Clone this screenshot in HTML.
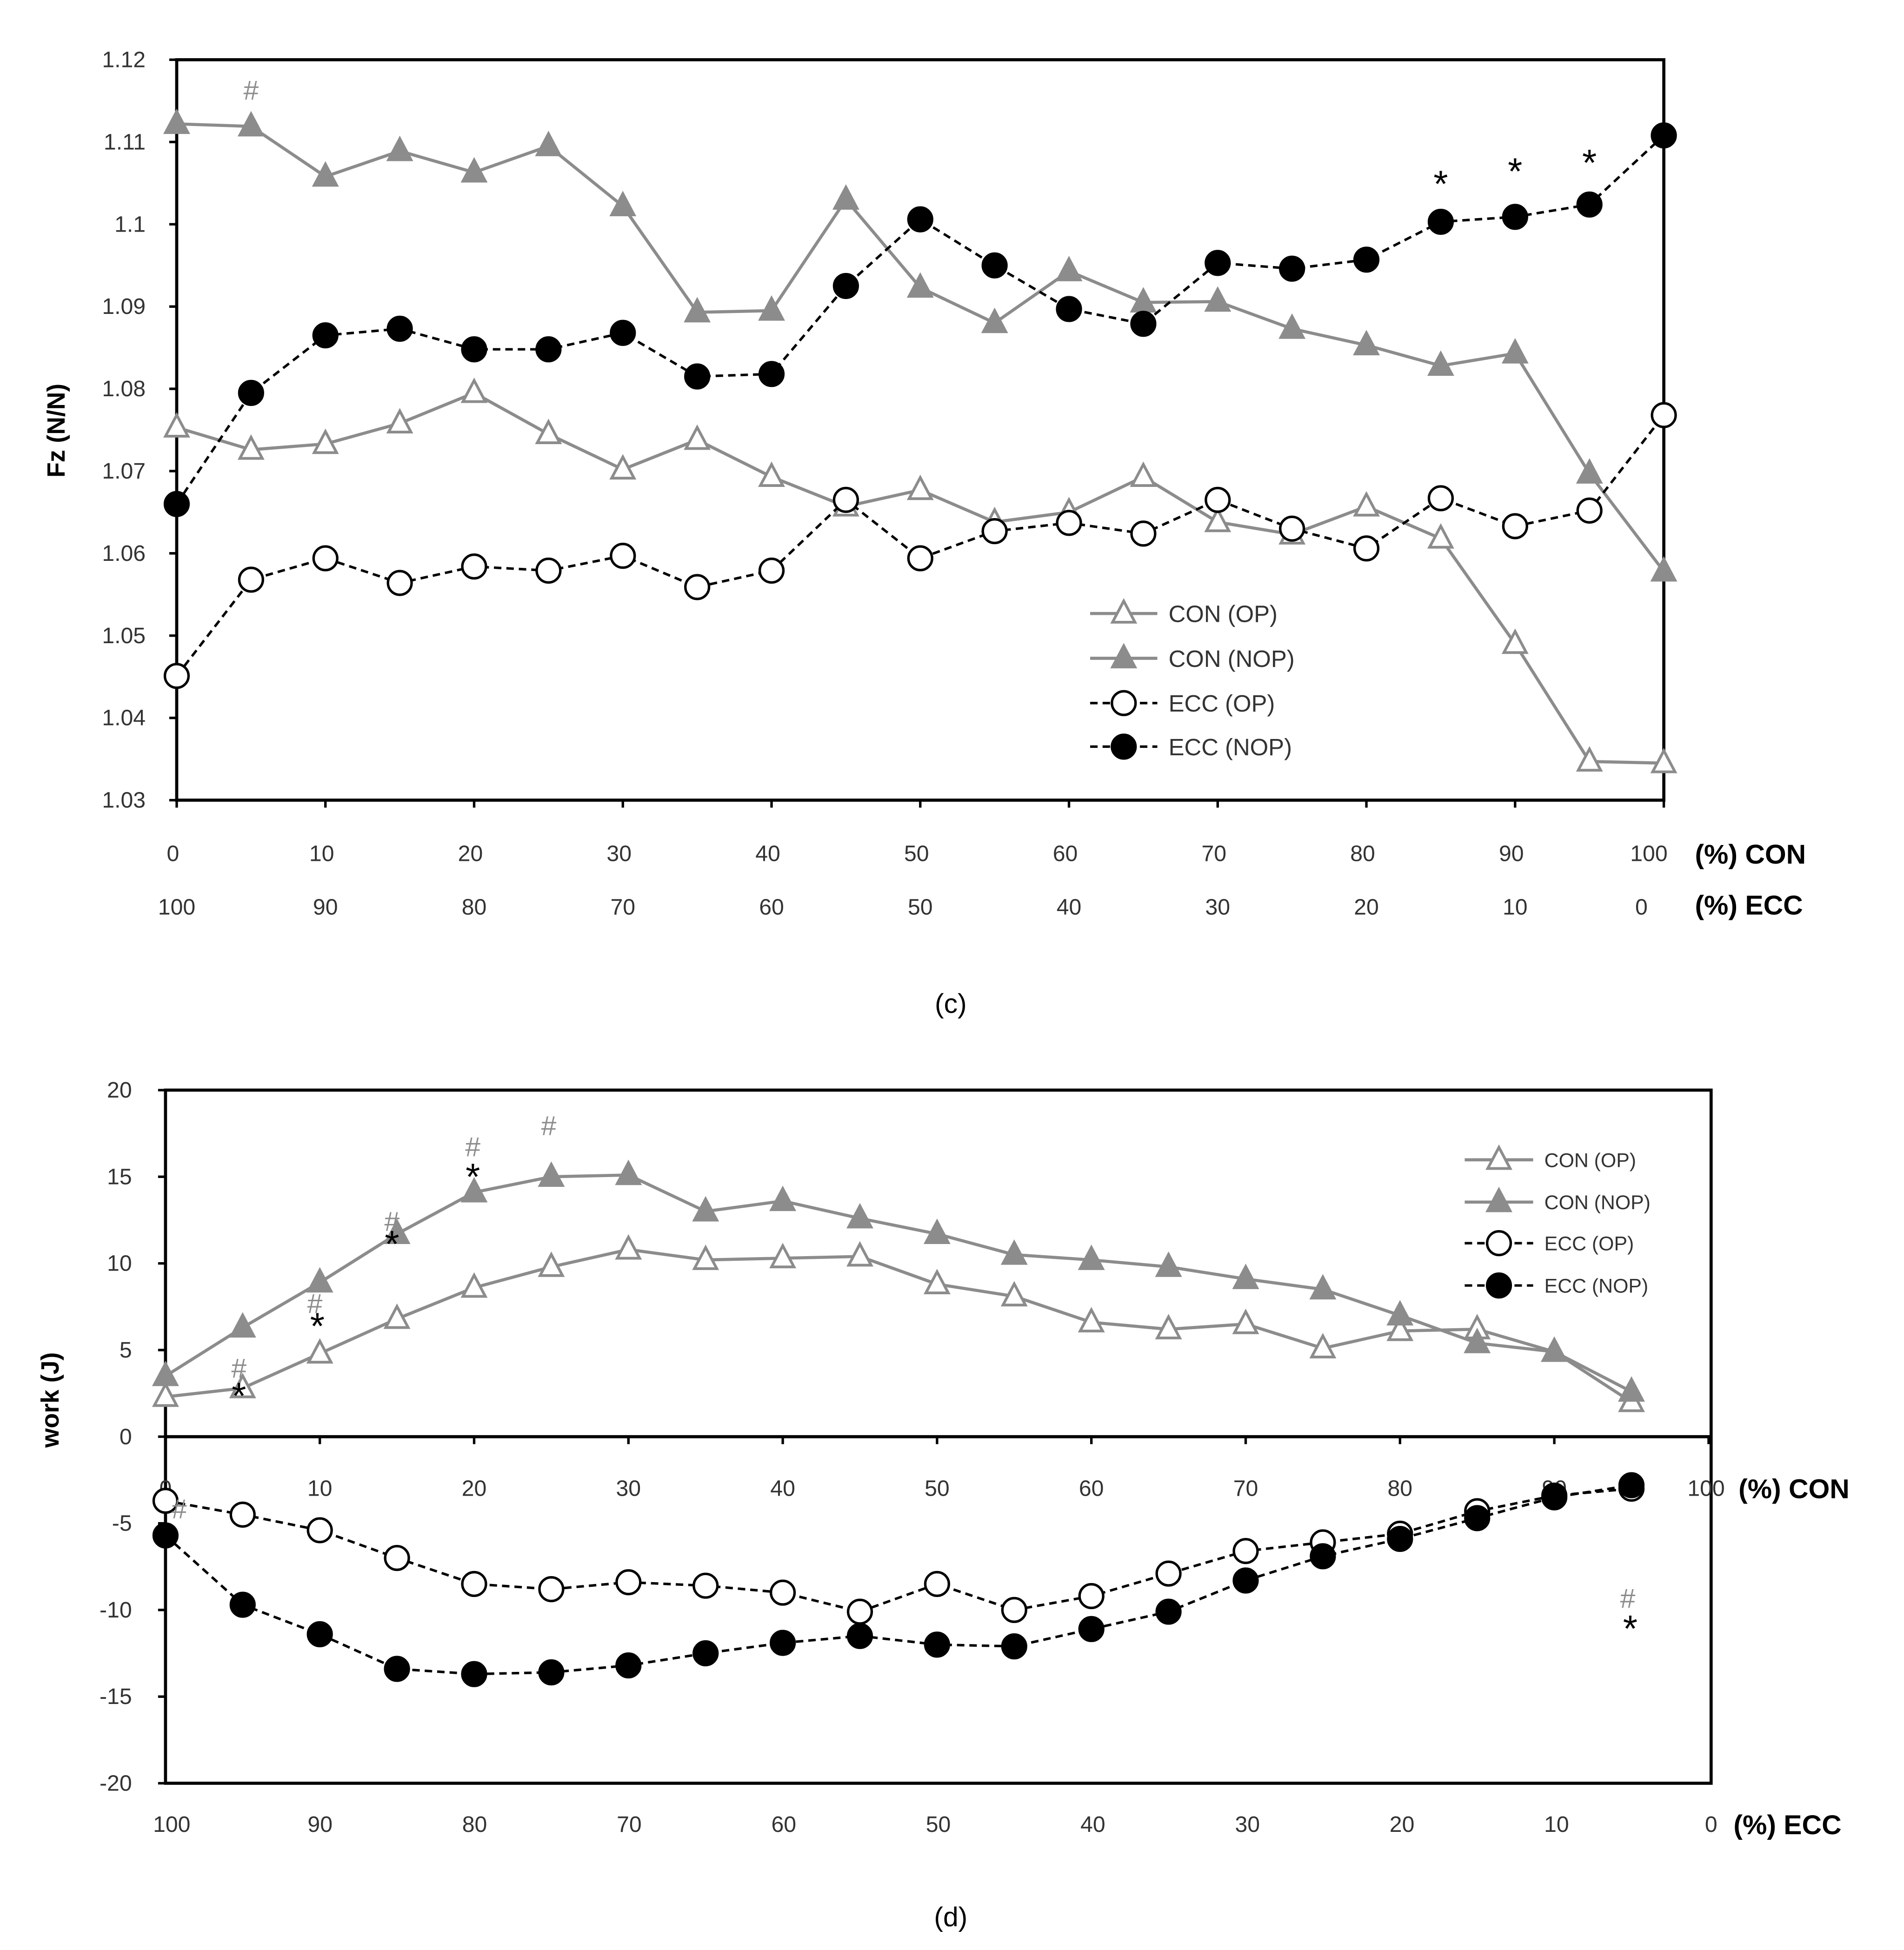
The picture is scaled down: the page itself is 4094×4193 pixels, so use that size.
<!DOCTYPE html>
<html><head><meta charset="utf-8"><style>html,body{margin:0;padding:0;background:#fff}svg{display:block}text{font-family:"Liberation Sans",sans-serif}</style></head>
<body>
<svg id="fig" xmlns="http://www.w3.org/2000/svg" width="4094" height="4193" viewBox="0 0 1530 1567" preserveAspectRatio="none">
<rect width="1530" height="1567" fill="#fff"/>
</svg>
<script>
const xC = [0,5,10,15,20,25,30,35,40,45,50,55,60,65,70,75,80,85,90,95,100];
const cConOP = [1.0753,1.0726,1.0733,1.0758,1.0795,1.0745,1.0702,1.0738,1.0693,1.0657,1.0677,1.0638,1.0650,1.0693,1.0638,1.0623,1.0657,1.0618,1.0490,1.0347,1.0345];
const cConNOP = [1.1122,1.1119,1.1058,1.1089,1.1063,1.1095,1.1022,1.0893,1.0895,1.1030,1.0923,1.0880,1.0943,1.0905,1.0906,1.0873,1.0853,1.0828,1.0843,1.0697,1.0578];
const cEccOP = [1.0451,1.0568,1.0594,1.0564,1.0584,1.0579,1.0597,1.0559,1.0579,1.0665,1.0594,1.0627,1.0637,1.0624,1.0665,1.0630,1.0606,1.0667,1.0633,1.0652,1.0768];
const cEccNOP = [1.0660,1.0795,1.0865,1.0873,1.0848,1.0848,1.0868,1.0815,1.0818,1.0925,1.1006,1.0950,1.0897,1.0879,1.0953,1.0946,1.0957,1.1003,1.1009,1.1024,1.1108];
const cYTicks = ["1.03","1.04","1.05","1.06","1.07","1.08","1.09","1.1","1.11","1.12"];
const xD = [0,5,10,15,20,25,30,35,40,45,50,55,60,65,70,75,80,85,90,95];
const dConOP = [2.3,2.8,4.8,6.8,8.6,9.8,10.8,10.2,10.3,10.4,8.8,8.1,6.6,6.2,6.5,5.1,6.1,6.2,4.9,2.0];
const dConNOP = [3.5,6.3,8.9,11.7,14.1,15.0,15.1,13.0,13.6,12.6,11.7,10.5,10.2,9.8,9.1,8.5,7.0,5.4,4.9,2.6];
const dEccOP = [-3.7,-4.5,-5.4,-7.0,-8.5,-8.8,-8.4,-8.6,-9.0,-10.1,-8.5,-10.0,-9.2,-7.9,-6.6,-6.1,-5.6,-4.3,-3.4,-3.0];
const dEccNOP = [-5.7,-9.7,-11.4,-13.4,-13.7,-13.6,-13.2,-12.5,-11.9,-11.5,-12.0,-12.1,-11.1,-10.1,-8.3,-6.9,-5.9,-4.7,-3.5,-2.8];
const dYTicks = [20,15,10,5,0,-5,-10,-15,-20];
const conTicks = ["0","10","20","30","40","50","60","70","80","90","100"];
const eccTicks = ["100","90","80","70","60","50","40","30","20","10","0"];

const svg = document.getElementById('fig');
const NS = 'http://www.w3.org/2000/svg';
function mk(tag, attrs, parent){const e=document.createElementNS(NS,tag);for(const k in attrs)e.setAttribute(k,attrs[k]);(parent||svg).appendChild(e);return e;}
function txt(x,y,s,size,anchor,fill,weight,parent){const t=mk('text',{x:x,y:y,'font-size':size,'text-anchor':anchor||'middle',fill:fill||'#000','font-weight':weight||'normal'},parent);t.textContent=s;return t;}
function marker(g,type,x,y){
  if(type==='triO'||type==='triF'){
    mk('path',{d:`M${x} ${y-10}L${x+9} ${y+7}L${x-9} ${y+7}Z`,fill:type==='triF'?'#8c8c8c':'#fff',stroke:'#8c8c8c','stroke-width':2.2},g);
  } else {
    mk('circle',{cx:x,cy:y,r:9.5,fill:type==='cirF'?'#000':'#fff',stroke:'#000','stroke-width':2},g);
  }
}
function series(name,xs,ys,sx,sy,type,stroke,dash,w){
  const g=mk('g',{});
  
  
  const pts=xs.map((v,i)=>sx(v)+','+sy(ys[i])).join(' ');
  mk('polyline',{points:pts,fill:'none',stroke:stroke,'stroke-width':w,'stroke-dasharray':dash||'none'},g);
  xs.forEach((v,i)=>marker(g,type,sx(v),sy(ys[i])));
}
function legend(x0,y,label,type,size,len){
  const g=mk('g',{});
  
  
  const dashed=type.startsWith('cir');
  mk('line',{x1:x0,y1:y,x2:x0+len,y2:y,stroke:dashed?'#000':'#8c8c8c','stroke-width':dashed?2:2.5,'stroke-dasharray':dashed?'6,4':'none'},g);
  marker(g,type,x0+len/2,y);
  txt(x0+len+9,y+size*0.36,label,size,'start','#333','normal',g);
}

// ---- chart c ----
const cL=142,cR=1337,cT=48,cB=643;
const sxC=v=>cL+(v/100)*(cR-cL);
const syC=v=>cB-(v-1.03)/0.09*(cB-cT);
const axC=mk('g',{});


mk('rect',{x:cL,y:cT,width:cR-cL,height:cB-cT,fill:'none',stroke:'#000','stroke-width':2.5},axC);
cYTicks.forEach(t=>{const y=syC(parseFloat(t));mk('line',{x1:cL-6,y1:y,x2:cL,y2:y,stroke:'#000','stroke-width':2},axC);txt(117,y+6,t,18,'end','#333','normal',axC);});
conTicks.forEach((t,i)=>{const x=sxC(i*10);mk('line',{x1:x,y1:cB,x2:x,y2:cB+6,stroke:'#000','stroke-width':2},axC);txt(i===10?x-12:x-3,692,t,18,'middle','#333','normal',axC);});
eccTicks.forEach((t,i)=>{const x=sxC(i*10);txt(i===10?x-18:x,735,t,18,'middle','#333','normal',axC);});
txt(1362,694,'(%) CON',22,'start','#000','bold',axC);
txt(1362,735,'(%) ECC',22,'start','#000','bold',axC);
const ytc=txt(0,0,'Fz (N/N)',20,'middle','#000','bold',axC);ytc.setAttribute('transform','translate(52,346) rotate(-90)');
series('con-op-c',xC,cConOP,sxC,syC,'triO','#8c8c8c',null,2.5);
series('con-nop-c',xC,cConNOP,sxC,syC,'triF','#8c8c8c',null,2.5);
series('ecc-op-c',xC,cEccOP,sxC,syC,'cirO','#000','6,4',2);
series('ecc-nop-c',xC,cEccNOP,sxC,syC,'cirF','#000','6,4',2);
txt(sxC(5),80,'#',22,'middle','#8c8c8c');
txt(sxC(85),158,'*',30,'middle','#000');txt(sxC(90),148,'*',30,'middle','#000');txt(sxC(95),141,'*',30,'middle','#000');
legend(876,493,'CON (OP)','triO',19,54);legend(876,529,'CON (NOP)','triF',19,54);legend(876,565,'ECC (OP)','cirO',19,54);legend(876,600,'ECC (NOP)','cirF',19,54);
txt(764,814,'(c)',22,'middle','#000').setAttribute('font-family','Liberation Serif');

// ---- chart d ----
const dL=133,dR=1375,dT=876,dB=1433;
const sxD=v=>dL+(v/100)*(1373-dL);
const syD=v=>1154.5-v/20*(dB-dT)/2;
const axD=mk('g',{});


mk('rect',{x:dL,y:dT,width:dR-dL,height:dB-dT,fill:'none',stroke:'#000','stroke-width':2.5},axD);
mk('line',{x1:dL,y1:syD(0),x2:dR,y2:syD(0),stroke:'#000','stroke-width':2.5},axD);
dYTicks.forEach(t=>{const y=syD(t);mk('line',{x1:dL-6,y1:y,x2:dL,y2:y,stroke:'#000','stroke-width':2},axD);txt(106,y+6,String(t),18,'end','#333','normal',axD);});
conTicks.forEach((t,i)=>{const x=sxD(i*10);mk('line',{x1:x,y1:syD(0),x2:x,y2:syD(0)+6,stroke:'#000','stroke-width':2},axD);txt(i===10?x-2:x,1202,t,18,'middle','#333','normal',axD);});
eccTicks.forEach((t,i)=>{const x=dL+i*124.2;txt(i===0?x+5:x,1472,t,18,'middle','#333','normal',axD);});
txt(1397,1204,'(%) CON',22,'start','#000','bold',axD);
txt(1393,1474,'(%) ECC',22,'start','#000','bold',axD);
const ytd=txt(0,0,'work (J)',20,'middle','#000','bold',axD);ytd.setAttribute('transform','translate(47,1125) rotate(-90)');
series('con-op-d',xD,dConOP,sxD,syD,'triO','#8c8c8c',null,2.5);
series('con-nop-d',xD,dConNOP,sxD,syD,'triF','#8c8c8c',null,2.5);
series('ecc-op-d',xD,dEccOP,sxD,syD,'cirO','#000','6,4',2);
series('ecc-nop-d',xD,dEccNOP,sxD,syD,'cirF','#000','6,4',2);
[[192,1107],[253,1055],[315,989],[380,929],[441,912],[144,1220],[1308,1292]].forEach(p=>txt(p[0],p[1],'#',22,'middle','#8c8c8c'));
[[192,1132],[255,1076],[315,1010],[380,956],[1310,1319]].forEach(p=>txt(p[0],p[1],'*',30,'middle','#000'));
legend(1177,932,'CON (OP)','triO',16,55);legend(1177,966,'CON (NOP)','triF',16,55);legend(1177,999,'ECC (OP)','cirO',16,55);legend(1177,1033,'ECC (NOP)','cirF',16,55);
txt(764,1548,'(d)',22,'middle','#000').setAttribute('font-family','Liberation Serif');
</script>
</body></html>
